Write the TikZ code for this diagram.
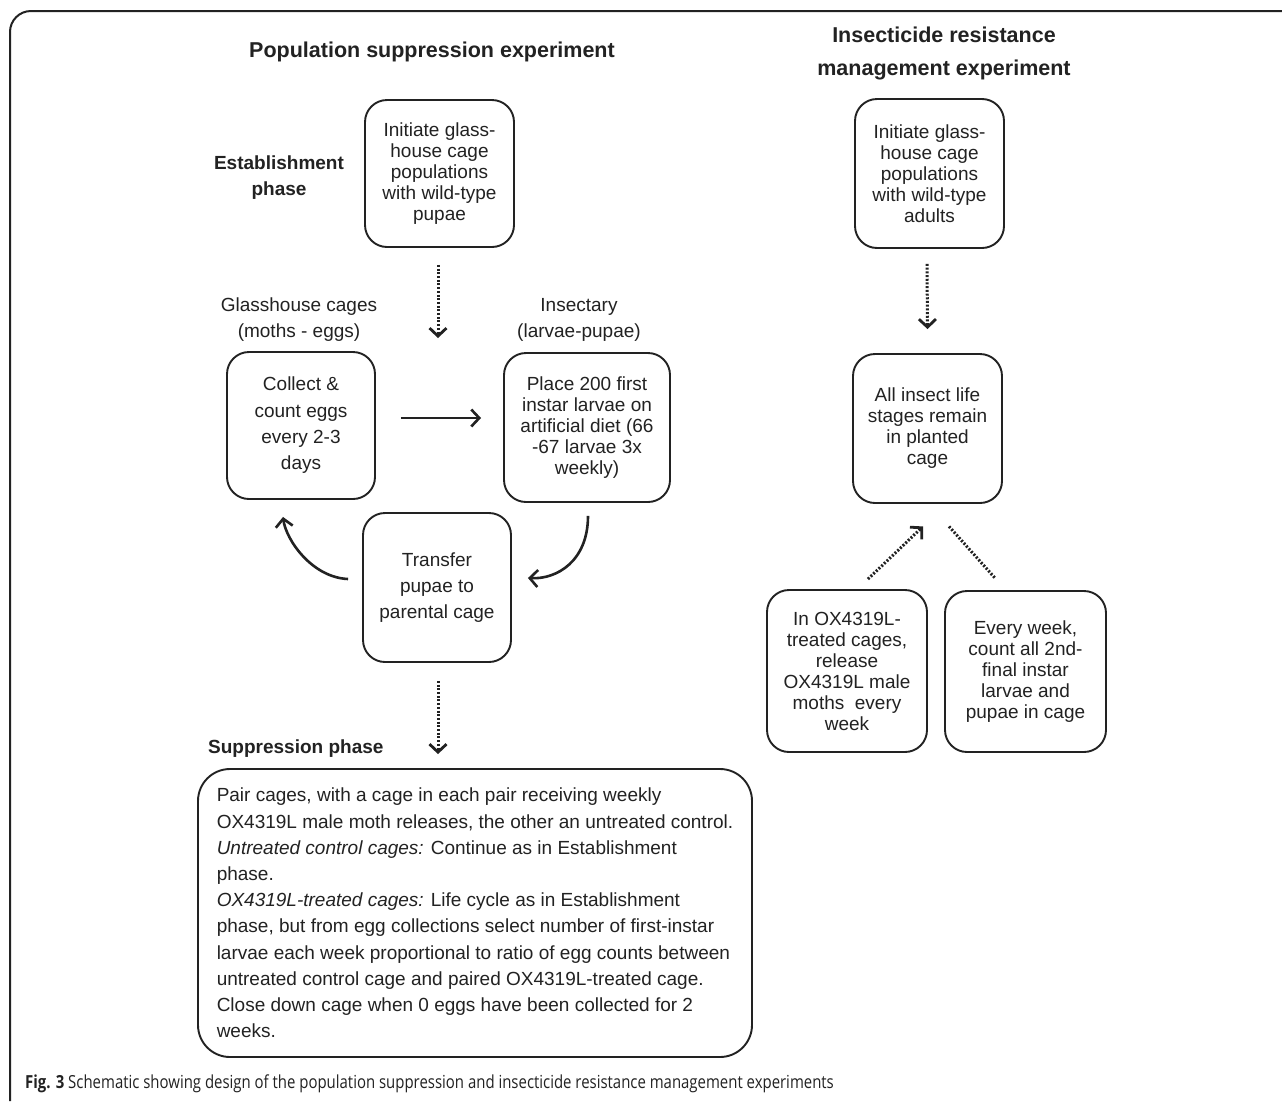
\documentclass[tikz,border=0pt]{standalone}
\usepackage{fontspec}
\setmainfont{Liberation Sans}
\newfontfamily\capfont[FakeStretch=0.83]{Open Sans}
\usetikzlibrary{arrows.meta,calc}
\definecolor{ink}{HTML}{222222}
\tikzset{
  x=1pt, y=-1pt,
  bx/.style={draw=ink, line width=1.9pt, rounded corners=22pt, align=center, inner sep=0pt,
    font=\fontsize{19}{21}\selectfont, text=ink},
  bxloose/.style={bx, font=\fontsize{19}{26.3}\selectfont},
  lbl/.style={align=center, inner sep=0pt, font=\fontsize{19}{26}\selectfont, text=ink},
  blbl/.style={align=center, inner sep=0pt, font=\fontsize{19}{26}\selectfont\bfseries, text=ink},
  ttl/.style={align=center, inner sep=0pt, font=\fontsize{21.5}{33}\selectfont\bfseries, text=ink},
  solidarr/.style={draw=ink, line width=2.6pt, -{Straight Barb[length=8pt,width=17pt,line width=2.6pt]}},
  dotarr/.style={draw=ink, line width=3pt, dash pattern=on 2pt off 1.7pt,
    -{Straight Barb[length=8pt,width=17pt,line width=2.8pt]}},
  dotline/.style={draw=ink, line width=3pt, dash pattern=on 2pt off 1.7pt},
}
\begin{document}
\begin{tikzpicture}
\useasboundingbox (0,0) rectangle (1282,1101);
\fill[white] (0,0) rectangle (1282,1101);
% frame
\draw[ink, line width=2pt, rounded corners=21pt] (10,1101) -- (10,11) -- (1290,11);

% titles
\node[ttl] (t1) at (432,52) {Population suppression experiment};
\node[ttl] (t2) at (944,53) {Insecticide resistance\\management experiment};
\node[blbl] (l1) at (279,178) {Establishment\\phase};
\node[lbl] (l2) at (299,320) {Glasshouse cages\\(moths - eggs)};
\node[lbl] (l3) at (579,320) {Insectary\\(larvae-pupae)};
\node[blbl, anchor=west] (l4) at (208,749) {Suppression phase};

% left boxes
\node[bx, minimum width=149pt, minimum height=147pt] (A) at (439.5,173.5)
  {Initiate glass-\\house cage\\populations\\with wild-type\\pupae};
\node[bxloose, minimum width=148pt, minimum height=147pt] (B) at (301,425.5)
  {Collect \&\\count eggs\\every 2-3\\days};
\node[bx, minimum width=166pt, minimum height=149pt] (C) at (587,427.5)
  {Place 200 first\\instar larvae on\\artificial diet (66\\-67 larvae 3x\\weekly)};
\node[bxloose, minimum width=148pt, minimum height=149pt] (D) at (437,587.5)
  {Transfer\\pupae to\\parental cage};
\node[bx, rounded corners=32pt, minimum width=554pt, minimum height=288pt, align=left,
  font=\fontsize{19}{26.2}\selectfont] (E) at (475,913)
  {Pair cages, with a cage in each pair receiving weekly\\
   OX4319L male moth releases, the other an untreated control.\\
   \textit{Untreated control cages:} Continue as in Establishment\\
   phase.\\
   \textit{OX4319L-treated cages:} Life cycle as in Establishment\\
   phase, but from egg collections select number of first-instar\\
   larvae each week proportional to ratio of egg counts between\\
   untreated control cage and paired OX4319L-treated cage.\\
   Close down cage when 0 eggs have been collected for 2\\
   weeks.};

% right boxes
\node[bx, minimum width=149pt, minimum height=149pt] (F) at (929.5,173.5)
  {Initiate glass-\\house cage\\populations\\with wild-type\\adults};
\node[bx, minimum width=149pt, minimum height=149pt] (G) at (927.5,428.5)
  {All insect life\\stages remain\\in planted\\cage};
\node[bx, minimum width=160pt, minimum height=162pt] (H) at (847,671)
  {In OX4319L-\\treated cages,\\release\\OX4319L male\\moths\ \ every\\week};
\node[bx, minimum width=161pt, minimum height=161pt] (I) at (1025.5,671.5)
  {Every week,\\count all 2nd-\\final instar\\larvae and\\pupae in cage};

% connectors
\coordinate (cyc) at (438,338);
\draw[dotarr] ($(A.south)+(-1.5,17)$) -- (cyc);
\draw[solidarr] ($(B.east)+(25,-7.5)$) -- ($(C.west)+(-22,-9.5)$);
\draw[solidarr] ($(C.south)+(1,13)$) .. controls ($(C.south)+(1,58)$) and ($(D.east)+(45,-8)$) .. ($(D.east)+(16,-9.5)$);
\draw[solidarr] ($(D.west)+(-14,-8.5)$) .. controls ($(D.west)+(-50,-10)$) and ($(B.south)+(-15,40)$) .. ($(B.south)+(-18,17)$);
\draw[dotarr] ($(D.south)+(1,18)$) -- ($(E.north)+(-37,-14)$);
\draw[dotarr] ($(F.south)+(-2.5,15)$) -- ($(G.north)+(0,-24)$);
\draw[dotarr] ($(H.north)+(21,-10)$) -- ($(G.south)+(-4.5,22.5)$);
\draw[dotline] ($(G.south)+(21.5,22.5)$) -- ($(I.north)+(-30.5,-12)$);

% caption
\node[anchor=base west, inner sep=0pt, text=ink, font=\capfont\fontsize{18}{20}\selectfont] (cap) at (25,1088)
  {\textbf{Fig. 3} Schematic showing design of the population suppression and insecticide resistance management experiments};
\end{tikzpicture}
\end{document}
